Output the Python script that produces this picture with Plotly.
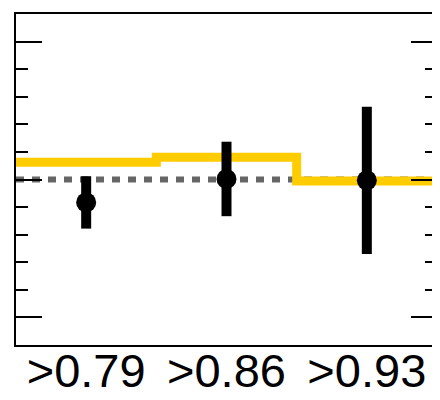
import plotly.graph_objects as go

categories = [">0.79", ">0.86", ">0.93"]
ratio_values = [0.917, 1.002, 0.997]
ratio_errors = [0.095, 0.135, 0.267]
step_edges = [-0.5, 0.5, 1.5, 2.5]
step_values = [1.0625, 1.081, 0.995, 0.995]
reference_x = [-0.5, 2.5]
reference_y = [1.0, 1.0]

x_pos = list(range(len(categories)))

fig = go.Figure()
fig.add_trace(go.Scatter(
    x=reference_x, y=reference_y, mode="lines",
    line=dict(color="#666666", width=6, dash="8px,8px"),
    showlegend=False, hoverinfo="skip"))
fig.add_trace(go.Scatter(
    x=step_edges, y=step_values, mode="lines",
    line=dict(color="#FFCC00", width=9, shape="hv"),
    showlegend=False, hoverinfo="skip"))
fig.add_trace(go.Scatter(
    x=x_pos, y=ratio_values, mode="markers",
    marker=dict(color="black", size=20),
    error_y=dict(type="data", array=ratio_errors, color="black",
                 thickness=10, width=0),
    showlegend=False))

fig.update_layout(
    width=432, height=392,
    margin=dict(l=8, r=3, t=6, b=55),
    paper_bgcolor="white", plot_bgcolor="white",
    font=dict(family="Liberation Sans, Arial, sans-serif", color="black"),
    xaxis=dict(
        range=[-0.5, 2.5], tickmode="array", tickvals=x_pos, ticktext=categories,
        ticks="", showgrid=False, zeroline=False, automargin=False,
        showline=True, linecolor="black", linewidth=2, mirror=True,
        tickfont=dict(size=47, color="black"), ticklabelstandoff=-16,
    ),
    yaxis=dict(
        range=[0.4, 1.6], tick0=0.5, dtick=0.5, ticks="inside", ticklen=26,
        tickwidth=2, tickcolor="black", showticklabels=False, automargin=False,
        showgrid=False, zeroline=False,
        showline=True, linecolor="black", linewidth=2, mirror="allticks",
        minor=dict(ticks="inside", ticklen=12, tickwidth=2, tickcolor="black",
                   dtick=0.1, tick0=0.5, showgrid=False),
    ),
)

fig.write_html("out.html")
